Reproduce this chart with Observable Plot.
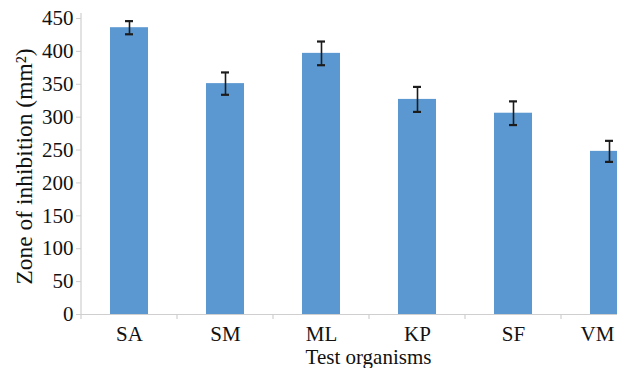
<!DOCTYPE html>
<html><head><meta charset="utf-8">
<script src="https://cdn.jsdelivr.net/npm/d3@7"></script>
<script src="https://cdn.jsdelivr.net/npm/@observablehq/plot@0.6"></script>
<style>html,body{margin:0;padding:0;background:#fff} svg{display:block} svg text{font-family:'Liberation Serif','Times New Roman',serif !important}</style>
</head><body><div id="chart"></div>
<script>
const organisms = ["SA", "SM", "ML", "KP", "SF", "VM"];
const zoneMeans = [436, 351, 397, 327, 306, 248];
const zoneErrors = [10, 17, 18, 19, 18, 16];
const yTicks = [0, 50, 100, 150, 200, 250, 300, 350, 400, 450];
const xTitle = "Test organisms";
const yTitle = "Zone of inhibition (mm²)";

const data = organisms.map((o, i) => ({organism: o, mean: zoneMeans[i], err: zoneErrors[i]}));

const errColor = "#1c1c1c";
const axisGray = "#cfcfcf";
const serif = "'Liberation Serif', 'Times New Roman', serif";

const chart = Plot.plot({
  width: 617,
  height: 368,
  marginLeft: 81,
  marginRight: 0,
  marginTop: 18,
  marginBottom: 54,
  style: {fontFamily: serif, color: "#111", background: "#fff", overflow: "hidden"},
  x: {domain: organisms, range: [81, 657], paddingInner: 0.6, paddingOuter: 0.3, label: null},
  y: {domain: [0, 450], label: null},
  marks: [
    Plot.axisY({ticks: yTicks, tickSize: 5, tickPadding: 3, fontSize: 21, fontFamily: serif, stroke: axisGray, fill: "#111", tickFormat: d => d, label: null}),
    Plot.axisX({ticks: organisms.slice(0, 5), tickSize: 0, tickPadding: 12, fontSize: 21, fontFamily: serif, fill: "#111", label: null}),
    Plot.axisX({ticks: organisms.slice(5), tickSize: 0, tickPadding: 12, dx: -12, fontSize: 21, fontFamily: serif, fill: "#111", label: null}),
    Plot.barY(data, {x: "organism", y: "mean", fill: "#5b97d1"}),
    Plot.ruleX(data, {x: "organism", y1: d => d.mean - d.err, y2: d => d.mean + d.err, stroke: errColor, strokeWidth: 1.6}),
    Plot.tickY(data, {x: "organism", y: d => d.mean + d.err, insetLeft: 15, insetRight: 15, stroke: errColor, strokeWidth: 2.2}),
    Plot.tickY(data, {x: "organism", y: d => d.mean - d.err, insetLeft: 15, insetRight: 15, stroke: errColor, strokeWidth: 2.2}),
    Plot.ruleY([0], {stroke: axisGray, strokeWidth: 1.2}),
    Plot.text([xTitle], {text: d => d, frameAnchor: "bottom", textAnchor: "middle", lineAnchor: "bottom", dx: 19, dy: 49, fontSize: 21, fontFamily: serif, fill: "#111"}),
    Plot.text([yTitle], {text: d => d, frameAnchor: "left", textAnchor: "middle", rotate: -90, lineAnchor: "bottom", dx: -50, fontSize: 23.5, fontFamily: serif, fill: "#111"})
  ]
});

document.getElementById("chart").append(chart);

// axis line and category boundary ticks, placed through Plot's own scales
const xs = chart.scale("x");
const ys = chart.scale("y");
const svg = d3.select(chart);
const y0 = ys.apply(0);
const yTop = ys.apply(450) - 5;
const x0 = xs.apply(organisms[0]) - (xs.step - xs.bandwidth) / 2;
svg.append("line")
  .attr("x1", x0).attr("x2", x0).attr("y1", yTop).attr("y2", y0)
  .attr("stroke", axisGray).attr("stroke-width", 1.2);
const bounds = organisms.map(o => xs.apply(o) - (xs.step - xs.bandwidth) / 2);
svg.append("g").selectAll("line").data(bounds).join("line")
  .attr("x1", d => d).attr("x2", d => d).attr("y1", y0).attr("y2", y0 + 5)
  .attr("stroke", axisGray).attr("stroke-width", 1.2);
</script>
</body></html>
